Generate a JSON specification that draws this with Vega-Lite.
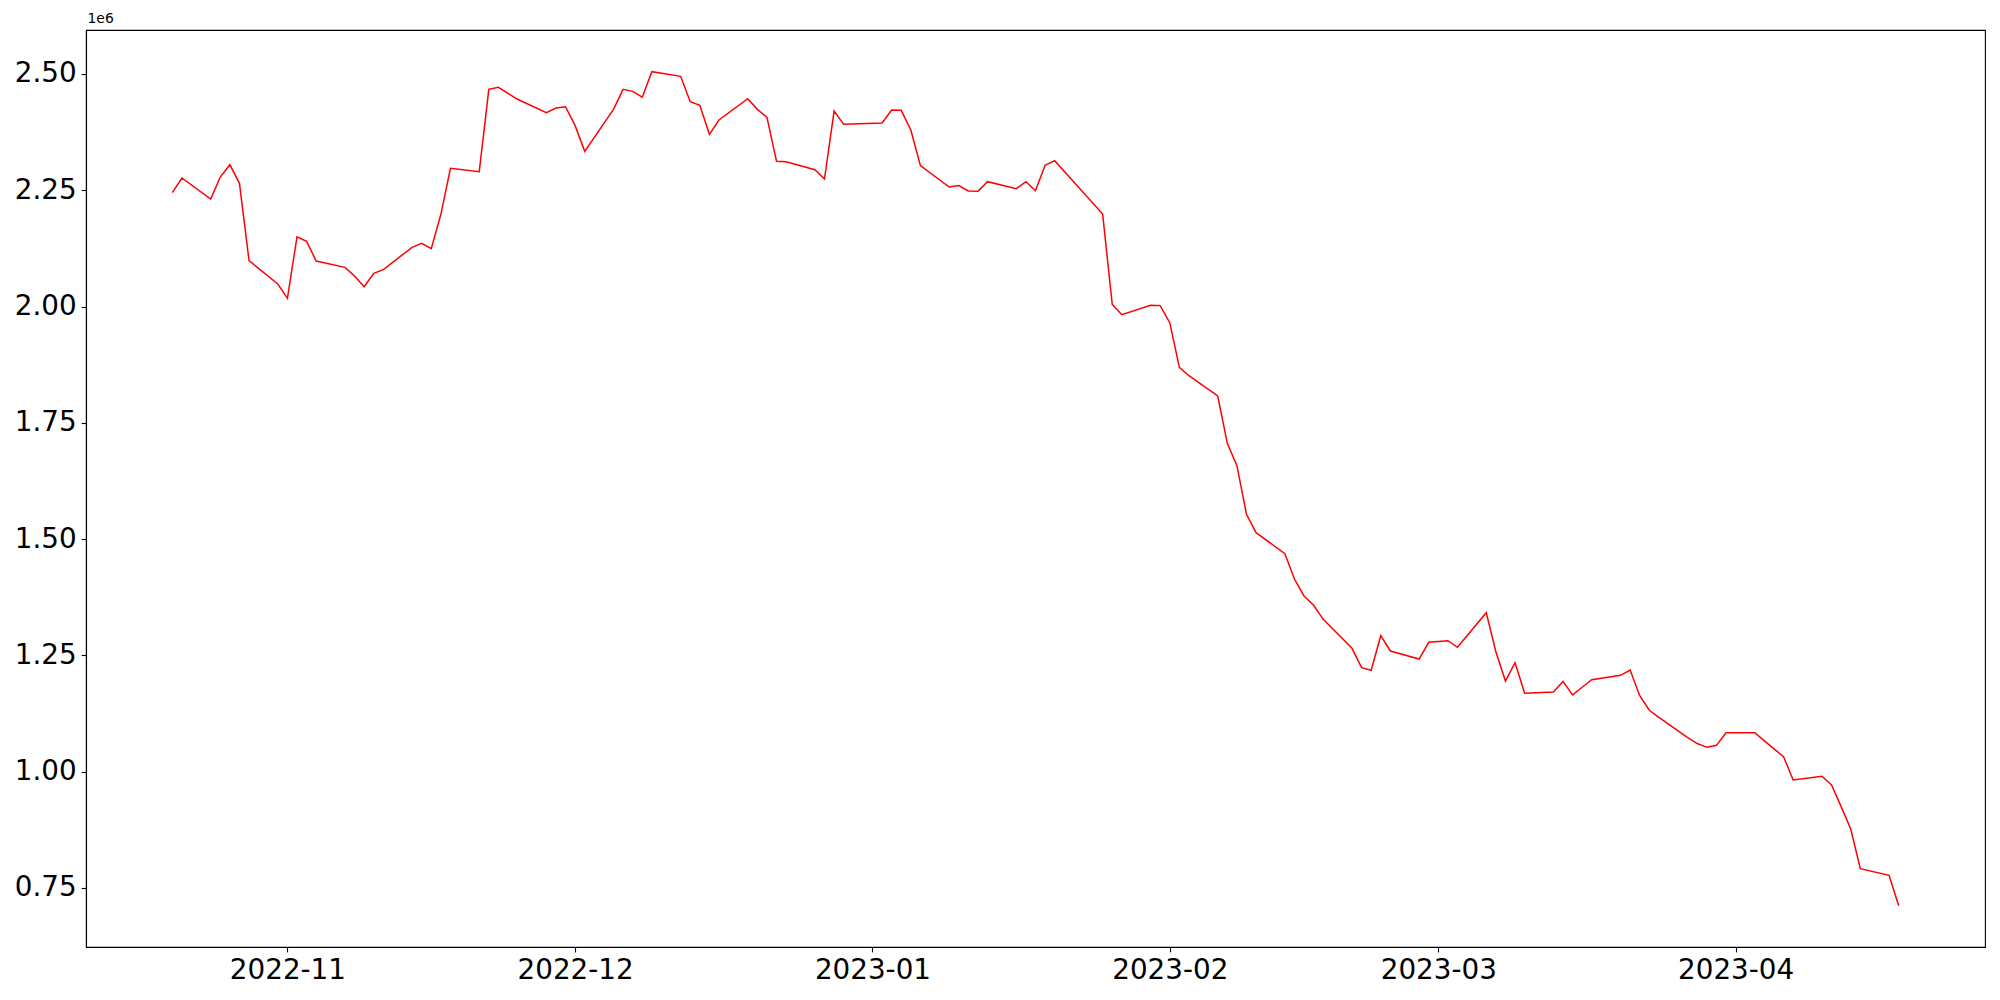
{
  "$schema": "https://vega.github.io/schema/vega-lite/v6.json",
  "autosize": "none",
  "width": 1899,
  "height": 917,
  "padding": {"left": 86, "top": 30, "right": 15, "bottom": 53},
  "background": "white",
  "config": {
    "font": "DejaVu Sans",
    "view": {"stroke": "black", "strokeWidth": 1.1},
    "axis": {"grid": false, "domainColor": "black", "tickColor": "black", "labelColor": "black", "domainWidth": 1.1, "tickWidth": 1.1, "tickSize": 4.9, "labelPadding": 4.9, "labelFontSize": 27.8, "labelFont": "DejaVu Sans"}
  },
  "data": {
    "values": [
      {"date": "2022-10-20", "v": 2244800},
      {"date": "2022-10-21", "v": 2276400},
      {"date": "2022-10-24", "v": 2231200},
      {"date": "2022-10-25", "v": 2278500},
      {"date": "2022-10-26", "v": 2305000},
      {"date": "2022-10-27", "v": 2265000},
      {"date": "2022-10-28", "v": 2098600},
      {"date": "2022-10-31", "v": 2048500},
      {"date": "2022-11-01", "v": 2017700},
      {"date": "2022-11-02", "v": 2150000},
      {"date": "2022-11-03", "v": 2140000},
      {"date": "2022-11-04", "v": 2098000},
      {"date": "2022-11-07", "v": 2084300},
      {"date": "2022-11-08", "v": 2065700},
      {"date": "2022-11-09", "v": 2042700},
      {"date": "2022-11-10", "v": 2071500},
      {"date": "2022-11-11", "v": 2079300},
      {"date": "2022-11-14", "v": 2127400},
      {"date": "2022-11-15", "v": 2136000},
      {"date": "2022-11-16", "v": 2124400},
      {"date": "2022-11-17", "v": 2198300},
      {"date": "2022-11-18", "v": 2297200},
      {"date": "2022-11-21", "v": 2290000},
      {"date": "2022-11-22", "v": 2467000},
      {"date": "2022-11-23", "v": 2471400},
      {"date": "2022-11-24", "v": 2458500},
      {"date": "2022-11-25", "v": 2445600},
      {"date": "2022-11-28", "v": 2416800},
      {"date": "2022-11-29", "v": 2426900},
      {"date": "2022-11-30", "v": 2429700},
      {"date": "2022-12-01", "v": 2388900},
      {"date": "2022-12-02", "v": 2333700},
      {"date": "2022-12-05", "v": 2424000},
      {"date": "2022-12-06", "v": 2467000},
      {"date": "2022-12-07", "v": 2462700},
      {"date": "2022-12-08", "v": 2450000},
      {"date": "2022-12-09", "v": 2505000},
      {"date": "2022-12-12", "v": 2495000},
      {"date": "2022-12-13", "v": 2440500},
      {"date": "2022-12-14", "v": 2432700},
      {"date": "2022-12-15", "v": 2370300},
      {"date": "2022-12-16", "v": 2401100},
      {"date": "2022-12-19", "v": 2447000},
      {"date": "2022-12-20", "v": 2424000},
      {"date": "2022-12-21", "v": 2406800},
      {"date": "2022-12-22", "v": 2312200},
      {"date": "2022-12-23", "v": 2311500},
      {"date": "2022-12-26", "v": 2294300},
      {"date": "2022-12-27", "v": 2274200},
      {"date": "2022-12-28", "v": 2420400},
      {"date": "2022-12-29", "v": 2391800},
      {"date": "2023-01-02", "v": 2394600},
      {"date": "2023-01-03", "v": 2422600},
      {"date": "2023-01-04", "v": 2421900},
      {"date": "2023-01-05", "v": 2379600},
      {"date": "2023-01-06", "v": 2302900},
      {"date": "2023-01-09", "v": 2257000},
      {"date": "2023-01-10", "v": 2260000},
      {"date": "2023-01-11", "v": 2248400},
      {"date": "2023-01-12", "v": 2247800},
      {"date": "2023-01-13", "v": 2268500},
      {"date": "2023-01-16", "v": 2253400},
      {"date": "2023-01-17", "v": 2268500},
      {"date": "2023-01-18", "v": 2249100},
      {"date": "2023-01-19", "v": 2303700},
      {"date": "2023-01-20", "v": 2313600},
      {"date": "2023-01-25", "v": 2199000},
      {"date": "2023-01-26", "v": 2004800},
      {"date": "2023-01-27", "v": 1982600},
      {"date": "2023-01-30", "v": 2002700},
      {"date": "2023-01-31", "v": 2002000},
      {"date": "2023-02-01", "v": 1965300},
      {"date": "2023-02-02", "v": 1869400},
      {"date": "2023-02-03", "v": 1851300},
      {"date": "2023-02-06", "v": 1807700},
      {"date": "2023-02-07", "v": 1706000},
      {"date": "2023-02-08", "v": 1657900},
      {"date": "2023-02-09", "v": 1553300},
      {"date": "2023-02-10", "v": 1513800},
      {"date": "2023-02-13", "v": 1468700},
      {"date": "2023-02-14", "v": 1414200},
      {"date": "2023-02-15", "v": 1377700},
      {"date": "2023-02-16", "v": 1357600},
      {"date": "2023-02-17", "v": 1327500},
      {"date": "2023-02-20", "v": 1265200},
      {"date": "2023-02-21", "v": 1223500},
      {"date": "2023-02-22", "v": 1217900},
      {"date": "2023-02-23", "v": 1292300},
      {"date": "2023-02-24", "v": 1259400},
      {"date": "2023-02-27", "v": 1242200},
      {"date": "2023-02-28", "v": 1278100},
      {"date": "2023-03-02", "v": 1281600},
      {"date": "2023-03-03", "v": 1267400},
      {"date": "2023-03-06", "v": 1341700},
      {"date": "2023-03-07", "v": 1257900},
      {"date": "2023-03-08", "v": 1194900},
      {"date": "2023-03-09", "v": 1234300},
      {"date": "2023-03-10", "v": 1168500},
      {"date": "2023-03-13", "v": 1171300},
      {"date": "2023-03-14", "v": 1194000},
      {"date": "2023-03-15", "v": 1165000},
      {"date": "2023-03-16", "v": 1181400},
      {"date": "2023-03-17", "v": 1197800},
      {"date": "2023-03-20", "v": 1207100},
      {"date": "2023-03-21", "v": 1218600},
      {"date": "2023-03-22", "v": 1163300},
      {"date": "2023-03-23", "v": 1132000},
      {"date": "2023-03-24", "v": 1116800},
      {"date": "2023-03-27", "v": 1073100},
      {"date": "2023-03-28", "v": 1060500},
      {"date": "2023-03-29", "v": 1052300},
      {"date": "2023-03-30", "v": 1056600},
      {"date": "2023-03-31", "v": 1083800},
      {"date": "2023-04-03", "v": 1083800},
      {"date": "2023-04-04", "v": 1066300},
      {"date": "2023-04-05", "v": 1049000},
      {"date": "2023-04-06", "v": 1032000},
      {"date": "2023-04-07", "v": 982000},
      {"date": "2023-04-10", "v": 990000},
      {"date": "2023-04-11", "v": 971300},
      {"date": "2023-04-12", "v": 924700},
      {"date": "2023-04-13", "v": 876700},
      {"date": "2023-04-14", "v": 791400},
      {"date": "2023-04-17", "v": 777100},
      {"date": "2023-04-18", "v": 711900}
    ]
  },
  "mark": {"type": "line", "color": "#ff0000", "strokeWidth": 1.5},
  "encoding": {
    "x": {
      "field": "date",
      "type": "temporal",
      "scale": {"type": "utc", "domain": [{"year": 2022, "month": 10, "date": 11, "utc": true}, {"year": 2023, "month": 4, "date": 27, "utc": true}], "nice": false},
      "axis": {"title": null, "format": "%Y-%m", "tickCount": "month", "labelBaseline": "top", "labelFlush": false, "labelOverlap": false}
    },
    "y": {
      "field": "v",
      "type": "quantitative",
      "scale": {"domain": [623000, 2594600], "nice": false, "zero": false},
      "axis": {
        "title": "1e6",
        "titleAngle": 0,
        "titleX": 1,
        "titleY": -5,
        "titleAlign": "left",
        "titleBaseline": "bottom",
        "titleFontSize": 13.9,
        "titleFontWeight": "normal",
        "titleColor": "black",
        "values": [750000, 1000000, 1250000, 1500000, 1750000, 2000000, 2250000, 2500000],
        "labelExpr": "format(datum.value / 1000000, '.2f')"
      }
    }
  }
}
